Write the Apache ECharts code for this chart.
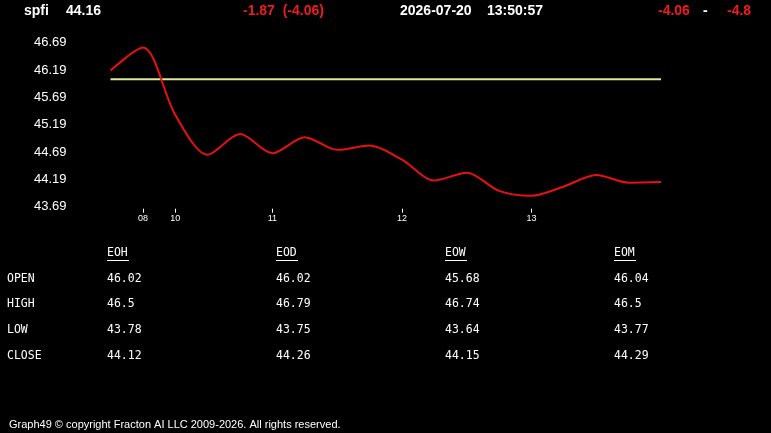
<!DOCTYPE html>
<html><head><meta charset="utf-8">
<script src="https://cdn.jsdelivr.net/npm/echarts@6/dist/echarts.min.js"></script>
<style>html,body{margin:0;padding:0;background:#000;}#c{width:771px;height:433px;}</style>
</head><body><div id="c"></div>
<script>
// ---- data ----
const times = [9.75,10.0,10.25,10.5,10.75,11.0,11.25,11.5,11.75,12.0,12.25,12.5,12.75,13.0,13.25,13.5,13.75,14.0];
const prices = [46.18,46.6,45.37,44.64,45.02,44.67,44.96,44.73,44.81,44.55,44.17,44.31,43.98,43.89,44.06,44.27,44.13,44.14];
const refLevel = 46.02;
const xTickPos = [10.0,10.25,11,12,13];
const xTickLabels = ['08','10','11','12','13'];
const yTicks = [43.69,44.19,44.69,45.19,45.69,46.19,46.69];
const tableCols = ['EOH','EOD','EOW','EOM'];
const tableRows = ['OPEN','HIGH','LOW','CLOSE'];
const openVals = ['46.02','46.02','45.68','46.04'];
const highVals = ['46.5','46.79','46.74','46.5'];
const lowVals = ['43.78','43.75','43.64','43.77'];
const closeVals = ['44.12','44.26','44.15','44.29'];
const header = {sym:'spfi', last:'44.16', chg:'-1.87  (-4.06)', date:'2026-07-20', time:'13:50:57', r1:'-4.06', r2:'-4.8'};
const footer = 'Graph49 \u00a9 copyright Fracton AI LLC 2009-2026. All rights reserved.';

const chart = echarts.init(document.getElementById('c'));
const hdrFont = 'bold 14px "Liberation Sans", Arial, sans-serif';
const mono = '11.5px "DejaVu Sans Mono", monospace';
const graphics = [];
function txt(x,y,t,font,fill,align){
  graphics.push({type:'text',x:x,y:y,style:{text:t,font:font,fill:fill,textAlign:align||'left',textVerticalAlign:'middle'}});
}
txt(24,11,header.sym,hdrFont,'#fff');
txt(66,11,header.last,hdrFont,'#fff');
txt(243,11,header.chg,hdrFont,'#ee1c1c');
txt(400,11,header.date,hdrFont,'#fff');
txt(487,11,header.time,hdrFont,'#fff');
txt(658,11,header.r1,hdrFont,'#ee1c1c');
txt(703,11,'-',hdrFont,'#fff');
txt(727,11,header.r2,hdrFont,'#ee1c1c');

const colX = [107,276,445,614];
const rowY = [279,304,330,356];
const vals = [openVals,highVals,lowVals,closeVals];
tableCols.forEach((c,i)=>{
  txt(colX[i],253,c,mono,'#fff');
  graphics.push({type:'line',shape:{x1:colX[i],y1:260.5,x2:colX[i]+22,y2:260.5},style:{stroke:'#fff',lineWidth:1}});
});
tableRows.forEach((r,j)=>{
  txt(7,rowY[j],r,mono,'#fff');
  vals[j].forEach((v,i)=>txt(colX[i],rowY[j],v,mono,'#fff'));
});
txt(9,425,footer,'11px "Liberation Sans", Arial, sans-serif','#fff');

chart.setOption({
  backgroundColor:'#000',
  animation:false,
  grid:{left:110.5,right:110,top:42.7,bottom:226.3},
  xAxis:{type:'value',min:9.75,max:14.0,
    axisLine:{show:false},splitLine:{show:false},offset:2,
    axisTick:{show:true,length:4,lineStyle:{color:'#fff'},customValues:xTickPos},
    axisLabel:{color:'#fff',fontSize:9,margin:5,fontFamily:'"Liberation Sans", Arial',
      customValues:xTickPos,formatter:(v)=>{const i=xTickPos.findIndex(p=>Math.abs(p-v)<1e-6);return i>=0?xTickLabels[i]:'';}}},
  yAxis:{type:'value',min:43.69,max:46.69,
    axisLine:{show:false},axisTick:{show:false},splitLine:{show:false},
    axisLabel:{color:'#fff',fontSize:13,margin:44,fontFamily:'"Liberation Sans", Arial',
      customValues:yTicks,formatter:(v)=>v.toFixed(2)}},
  series:[
    {type:'line',data:times.map(t=>[t,refLevel]),symbol:'none',lineStyle:{color:'#d8ea96',width:2},silent:true},
    {type:'line',data:times.map((t,i)=>[t,prices[i]]),symbol:'none',smooth:0.3,lineStyle:{color:'#e81010',width:2},silent:true}
  ],
  graphic:graphics
});
</script></body></html>
